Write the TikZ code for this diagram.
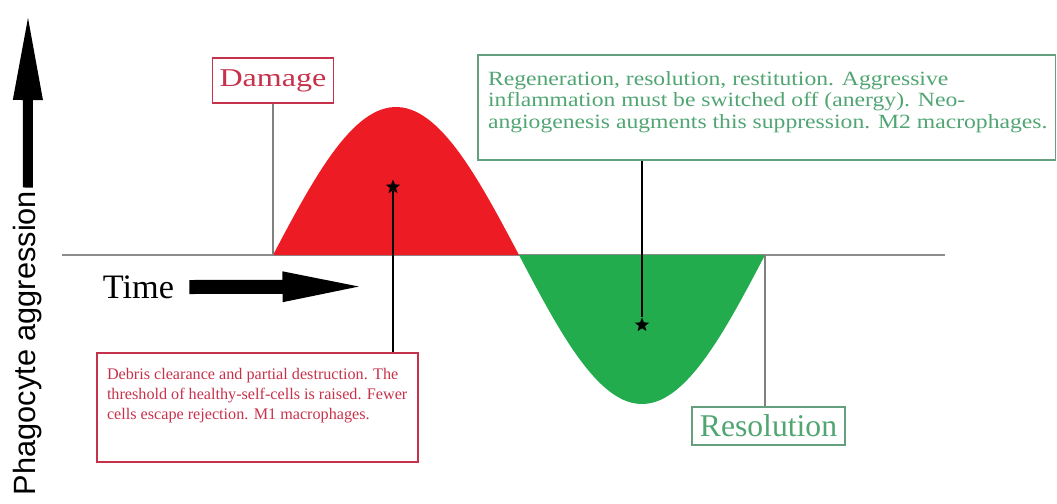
\documentclass[tikz,border=0pt]{standalone}
\usepackage{fontspec}
\setmainfont{Liberation Serif}
\newfontfamily\widefont[FakeStretch=1.17]{Liberation Serif}
\newfontfamily\dmgfont[FakeStretch=1.25]{Liberation Serif}
\newfontfamily\axisfont{Liberation Sans}
\usetikzlibrary{shapes.geometric, arrows.meta, positioning, calc}

\definecolor{dmgred}{RGB}{237,28,36}
\definecolor{resgreen}{RGB}{34,172,78}
\definecolor{dmgtext}{RGB}{198,50,75}
\definecolor{restext}{RGB}{80,165,115}
\definecolor{resline}{RGB}{100,160,125}

\begin{document}
\begin{tikzpicture}[
  bigbox/.style={rectangle, draw, line width=0.9pt, inner sep=0pt},
  dmgbox/.style={bigbox, draw=dmgtext, text=dmgtext, minimum width=2.42cm, minimum height=0.9cm, font=\dmgfont\fontsize{14.6}{16}\selectfont},
  resbox/.style={bigbox, draw=resline, text=restext, minimum width=3.06cm, minimum height=0.76cm, font=\fontsize{18}{20}\selectfont},
  notebox/.style={rectangle, draw, line width=0.9pt, inner xsep=0.2cm, inner ysep=0.3cm},
  tick/.style={draw=gray, line width=0.6pt},
  axis/.style={draw=gray!90, line width=0.7pt},
  ptr/.style={line width=1.3pt},
  starpt/.style={star, star points=5, star point ratio=2.3, fill=black, inner sep=0pt, minimum size=0.3cm},
  fatx/.style={line width=0.28cm, -{Triangle[length=1.8cm, width=0.52cm]}},
  faty/.style={line width=0.2cm, -{Triangle[length=1.74cm, width=0.54cm]}},
]
\useasboundingbox (0,0) rectangle (21.14,-10.06);

% time axis and the curve
\coordinate (t0) at (1.24,-5.1);
\coordinate (t1) at (18.9,-5.1);
\coordinate (dmgstart) at (5.46,-5.1);
\coordinate (resend) at (15.3,-5.1);
\draw[axis] (t0) -- (t1);
\fill[dmgred] (dmgstart) -- plot[domain=0:180, samples=60, variable=\t] ({5.46+4.92*\t/180},{-5.1+2.96*sin(\t)}) -- cycle;
\fill[resgreen] (10.38,-5.1) -- plot[domain=180:360, samples=60, variable=\t] ({5.46+4.92*\t/180},{-5.1+2.98*sin(\t)}) -- cycle;

% axis labels
\node[font=\axisfont\fontsize{17.5}{20}\selectfont, rotate=90, inner sep=0pt] (aggr) at (0.555,-6.86) {Phagocyte aggression};
\coordinate (ytip) at (0.56,-0.26);
\draw[faty] ([yshift=0.06cm]aggr.east) -- (ytip);

\node[font=\fontsize{19.5}{22}\selectfont, inner sep=0pt] (time) at (2.77,-5.74) {Time};
\coordinate (tend) at (7.45,-5.73);
\draw[fatx] ([xshift=0.3cm]time.east) -- (tend);

% phase labels
\node[dmgbox] (damage) at (5.46,-1.61) {Damage};
\draw[tick] (damage.south) -- (dmgstart);
\node[resbox] (resolution) at (15.37,-8.52) {Resolution};
\draw[tick] (resend) -- (resend |- resolution.north);

% notes
\node[starpt] (rstar) at (7.86,-3.74) {};
\node[starpt] (gstar) at (12.84,-6.5) {};

\node[notebox, draw=dmgtext, text=dmgtext, font=\fontsize{9.2}{11.5}\selectfont] (dmgnote) at (5.15,-8.15)
  {\parbox[c][1.58cm][t]{6.02cm}{\mbox{Debris clearance and partial destruction. The}\\ \mbox{threshold of healthy-self-cells is raised. Fewer}\\ \mbox{cells escape rejection. M1 macrophages.}}};
\node[notebox, draw=resline, text=restext, inner ysep=0.32cm, font=\widefont\fontsize{11.5}{12.5}\selectfont] (resnote) at (15.335,-2.15)
  {\parbox[c][1.46cm][t]{11.15cm}{\mbox{Regeneration, resolution, restitution. Aggressive}\\ \mbox{inflammation must be switched off (anergy). Neo-}\\ \mbox{angiogenesis augments this suppression. M2 macrophages.}}};

\draw[ptr] (rstar) -- (rstar |- dmgnote.north);
\draw[ptr] (resnote.south -| gstar) -- (gstar);
\end{tikzpicture}
\end{document}
